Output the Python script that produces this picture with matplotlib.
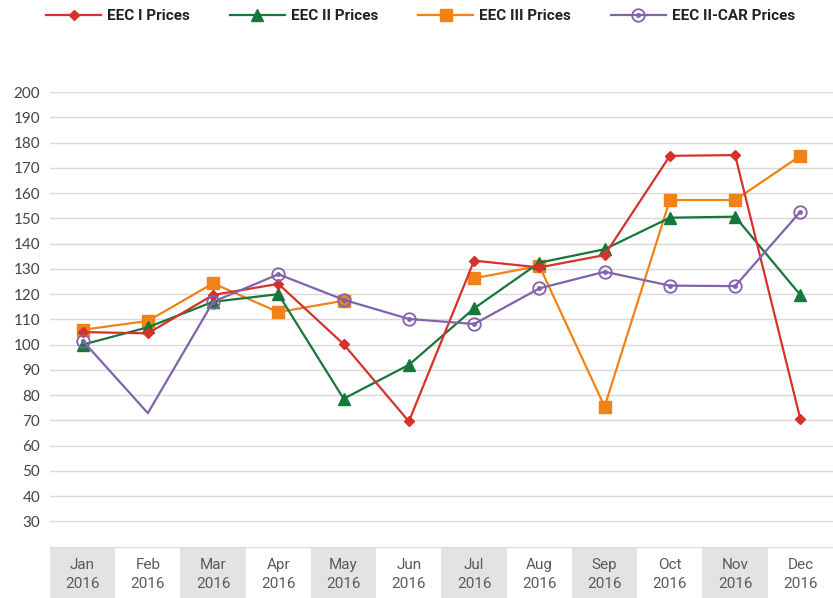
"""
EEC monthly prices 2016 - four series, line chart with grey/white month boxes.
"""
import matplotlib
matplotlib.use("Agg")
import matplotlib.pyplot as plt
import numpy as np

MONTHS = ["Jan", "Feb", "Mar", "Apr", "May", "Jun",
          "Jul", "Aug", "Sep", "Oct", "Nov", "Dec"]
YEAR = "2016"

eec1 = [105.0, 104.5, 119.7, 124.1, 100.2, 69.6, 133.3, 130.6, 135.5, 174.8, 175.1, 70.5]
eec2 = [100.0, 106.9, 117.0, 120.0, 78.6, 92.0, 114.4, 132.5, 137.8, 150.3, 150.7, 119.7]
eec3 = [105.9, 109.4, 124.3, 112.9, 117.4, np.nan, 126.3, 131.2, 75.5, 157.3, 157.3, 174.8]
eec2_car = [101.6, 72.9, 117.0, 127.9, 117.8, 110.2, 108.2, 122.3, 128.9, 123.4, 123.2, 152.7]

Y_TICKS = list(range(30, 201, 10))

NARROW = ["Roboto", "DejaVu Sans"]
LABEL_GREY = "#5a5a5a"

fig = plt.figure(figsize=(8.33, 5.98), dpi=100)
ax = fig.add_axes([0.060, 0.0858, 0.940, 0.760])
x = np.arange(len(MONTHS))

h1, = ax.plot(x, eec1, color="#d7312b", lw=1.6, marker="D", ms=5,
              label="EEC I Prices", zorder=5)
h2, = ax.plot(x, eec2, color="#17763a", lw=1.6, marker="^", ms=8,
              label="EEC II Prices", zorder=4)
h3, = ax.plot(x, eec3, color="#f08216", lw=1.6, marker="s", ms=8,
              label="EEC III Prices", zorder=3)
# purple: open circle with a small dot inside, no marker on Feb
car_marks = [i for i in range(len(MONTHS)) if i != 1]
h4, = ax.plot(x, eec2_car, color="#8262aa", lw=1.6, marker="o", ms=9,
              mfc="none", mew=1.3, markevery=car_marks, zorder=6)
h4b, = ax.plot(x[car_marks], np.array(eec2_car)[car_marks], ls="none",
               marker="o", ms=2.5, color="#8262aa", zorder=6)

ax.set_xlim(-0.5, len(MONTHS) - 0.5)
ax.set_ylim(20, 200)
ax.set_yticks(Y_TICKS)
ax.set_yticklabels([str(t) for t in Y_TICKS], fontsize=11, color="#444444",
                   family=["Lato", "DejaVu Sans"])
ax.tick_params(axis="y", length=0, pad=7)
ax.set_xticks([])
ax.grid(axis="y", color="#d9d9d9", lw=1.0)
ax.set_axisbelow(True)
for s in ax.spines.values():
    s.set_visible(False)

# month boxes under the plot
bx = fig.add_axes([0.060, 0.0, 0.940, 0.0858])
bx.set_xlim(-0.5, len(MONTHS) - 0.5)
bx.set_ylim(0, 1)
box_cols = ["#e3e3e3" if i % 2 == 0 else "white" for i in range(len(MONTHS))]
bx.bar(x, 1, width=1.0, color=box_cols, align="center")
bx.axhline(1, color="#dcdcdc", lw=1.0)
for i, m in enumerate(MONTHS):
    bx.text(i, 0.65, m, ha="center", va="center", fontsize=11,
            color=LABEL_GREY, family=NARROW)
    bx.text(i, 0.28, YEAR, ha="center", va="center", fontsize=11,
            color=LABEL_GREY, family=NARROW)
bx.axis("off")

leg = fig.legend([h1, h2, h3, (h4, h4b)],
                 ["EEC I Prices", "EEC II Prices", "EEC III Prices", "EEC II-CAR Prices"],
                 loc="center", bbox_to_anchor=(0.505, 0.973), ncol=4, frameon=False,
                 handlelength=3.6, handletextpad=0.4, columnspacing=2.6,
                 prop={"family": NARROW, "weight": "bold", "size": 11})
for t in leg.get_texts():
    t.set_color("#222222")

fig.savefig("out.png", dpi=100)
